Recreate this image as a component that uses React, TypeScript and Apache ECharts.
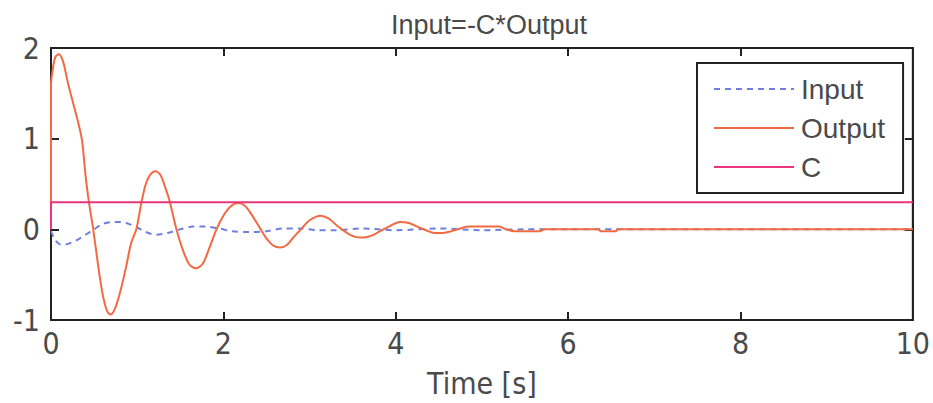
import React, { useEffect, useRef } from "react";
import * as echarts from "echarts";

const titleText = "Input=-C*Output";
const xName = "Time [s]";
const seriesNames = ["Input", "Output", "C"];

const inputT = [0, 0.05, 0.12, 0.2, 0.3, 0.4, 0.5, 0.6, 0.7, 0.8, 0.9, 1.0, 1.1, 1.22, 1.35, 1.5, 1.65, 1.8, 1.95, 2.1, 2.3, 2.5, 2.7, 2.9, 3.1, 3.3, 3.6, 4.0, 4.5, 5.0, 5.5, 6.0, 10];
const inputV = [-0.02, -0.12, -0.17, -0.16, -0.12, -0.06, 0.0, 0.06, 0.08, 0.08, 0.06, 0.02, -0.03, -0.06, -0.04, 0.0, 0.03, 0.03, 0.01, -0.02, -0.03, -0.02, 0.01, 0.01, -0.01, -0.01, 0.01, -0.01, 0.01, -0.01, 0.0, 0.0, 0.0];

const outputT = [0, 0, 0.02, 0.05, 0.09, 0.14, 0.2, 0.26, 0.31, 0.36, 0.4, 0.44, 0.49, 0.55, 0.6, 0.65, 0.69, 0.74, 0.8, 0.87, 0.93, 0.99, 1.05, 1.1, 1.15, 1.21, 1.27, 1.33, 1.38, 1.45, 1.52, 1.6, 1.68, 1.76, 1.84, 1.92, 2.0, 2.08, 2.17, 2.25, 2.33, 2.42, 2.5, 2.58, 2.66, 2.74, 2.82, 2.9, 3.0, 3.13, 3.22, 3.32, 3.42, 3.52, 3.63, 3.72, 3.82, 3.92, 4.05, 4.15, 4.25, 4.35, 4.45, 4.55, 4.65, 4.75, 4.85, 5.0, 5.2, 5.28, 5.38, 5.68, 5.72, 6.35, 6.38, 6.55, 6.58, 10];
const outputV = [0, 1.6, 1.76, 1.9, 1.93, 1.85, 1.6, 1.38, 1.2, 0.98, 0.6, 0.3, 0.0, -0.42, -0.72, -0.9, -0.94, -0.88, -0.7, -0.42, -0.15, 0.0, 0.3, 0.5, 0.6, 0.64, 0.6, 0.45, 0.3, 0.02, -0.2, -0.38, -0.43, -0.38, -0.2, 0.0, 0.15, 0.25, 0.29, 0.26, 0.16, 0.02, -0.1, -0.18, -0.2, -0.17, -0.08, 0.0, 0.1, 0.15, 0.12, 0.04, -0.03, -0.08, -0.09, -0.07, -0.02, 0.03, 0.08, 0.07, 0.03, -0.01, -0.04, -0.04, -0.02, 0.01, 0.03, 0.03, 0.03, 0.0, -0.02, -0.02, 0.0, 0.0, -0.02, -0.02, 0.0, 0.0];

const cT = [0, 0, 10];
const cV = [0, 0.3, 0.3];

const xTicks = { min: 0, max: 10, interval: 2 };
const yTicks = { min: -1, max: 2, interval: 1 };

const zip = (a: number[], b: number[]) => a.map((t, i) => [t, b[i]]);

export default function App() {
  const ref = useRef<HTMLDivElement>(null);
  useEffect(() => {
    document.body.style.margin = "0";
    const chart = echarts.init(ref.current!, null, { renderer: "svg" });
    const tickFont = "'Liberation Sans Narrow', 'DejaVu Sans Condensed', 'Liberation Sans', sans-serif";
    const textColor = "#4a4a4a";
    const frame = "#222";
    const tick = { show: true, inside: true, length: 8, lineStyle: { color: frame, width: 2 } };
    const axisLine = { show: true, onZero: false, lineStyle: { color: frame, width: 2 } };
    chart.setOption({
      animation: false,
      backgroundColor: "#fff",
      title: {
        text: titleText,
        left: 484,
        textAlign: "center",
        top: 6,
        textStyle: { fontFamily: "'Liberation Sans', sans-serif", fontSize: 27, fontWeight: "normal", color: textColor },
      },
      legend: {
        orient: "vertical",
        left: 697,
        top: 63,
        padding: [12, 18, 12, 16],
        itemGap: 11,
        itemWidth: 80,
        itemHeight: 14,
        borderColor: frame,
        borderWidth: 2,
        borderRadius: 0,
        backgroundColor: "#fff",
        data: seriesNames,
        itemStyle: { opacity: 0 },
        textStyle: { fontFamily: "'Liberation Sans', sans-serif", fontSize: 28, color: textColor, padding: [0, 0, 0, 2] },
      },
      grid: {
        left: 51,
        right: 16,
        top: 48,
        bottom: 83,
        show: true,
        borderColor: frame,
        borderWidth: 2,
        backgroundColor: "#fff",
      },
      xAxis: [
        {
          type: "value",
          position: "bottom",
          ...xTicks,
          name: xName,
          nameLocation: "middle",
          nameGap: 48,
          nameTextStyle: { fontFamily: tickFont, fontSize: 30, color: textColor },
          axisLine,
          axisTick: tick,
          splitLine: { show: false },
          axisLabel: { fontFamily: tickFont, fontSize: 30, color: textColor, margin: 8 },
        },
        {
          type: "value",
          position: "top",
          ...xTicks,
          axisLine,
          axisTick: tick,
          splitLine: { show: false },
          axisLabel: { show: false },
        },
      ],
      yAxis: [
        {
          type: "value",
          position: "left",
          ...yTicks,
          axisLine,
          axisTick: tick,
          splitLine: { show: false },
          axisLabel: { fontFamily: tickFont, fontSize: 30, color: textColor, margin: 11 },
        },
        {
          type: "value",
          position: "right",
          ...yTicks,
          axisLine,
          axisTick: tick,
          splitLine: { show: false },
          axisLabel: { show: false },
        },
      ],
      series: [
        {
          name: seriesNames[0],
          type: "line",
          data: zip(inputT, inputV),
          smooth: 0.3,
          symbol: "none",
          lineStyle: { color: "#6f7fe0", width: 2, type: [6, 5] },
          itemStyle: { color: "#6f7fe0" },
          z: 2,
        },
        {
          name: seriesNames[1],
          type: "line",
          data: zip(outputT, outputV),
          smooth: 0.3,
          symbol: "none",
          lineStyle: { color: "#f26a42", width: 2 },
          itemStyle: { color: "#f26a42" },
          z: 3,
        },
        {
          name: seriesNames[2],
          type: "line",
          data: zip(cT, cV),
          symbol: "none",
          lineStyle: { color: "#e8357c", width: 2 },
          itemStyle: { color: "#e8357c" },
          z: 4,
        },
      ],
    });
    return () => chart.dispose();
  }, []);
  return <div ref={ref} style={{ width: 933, height: 403 }} />;
}
